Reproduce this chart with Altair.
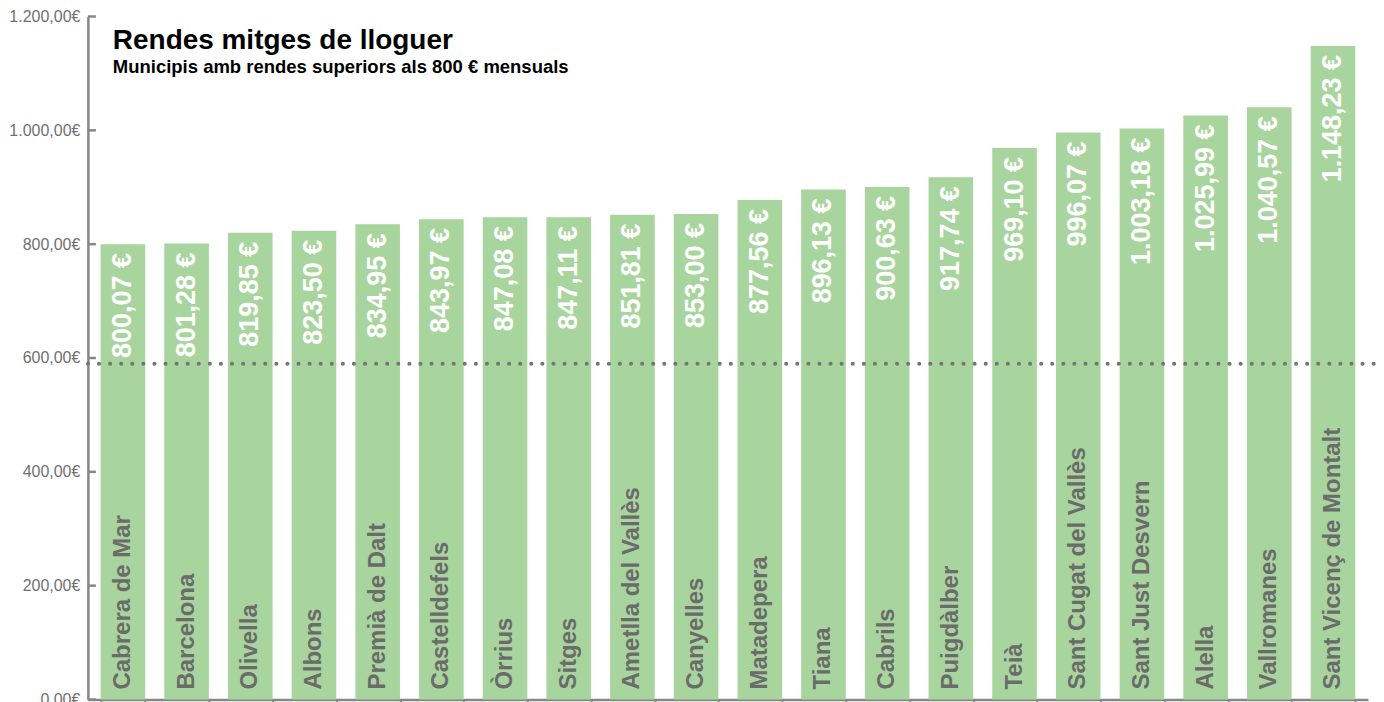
import altair as alt
import pandas as pd

municipis = ["Cabrera de Mar", "Barcelona", "Olivella", "Albons", "Premià de Dalt",
             "Castelldefels", "Òrrius", "Sitges", "Ametlla del Vallès", "Canyelles",
             "Matadepera", "Tiana", "Cabrils", "Puigdàlber", "Teià",
             "Sant Cugat del Vallès", "Sant Just Desvern", "Alella", "Vallromanes",
             "Sant Vicenç de Montalt"]
rendes = [800.07, 801.28, 819.85, 823.50, 834.95, 843.97, 847.08, 847.11, 851.81, 853.00,
          877.56, 896.13, 900.63, 917.74, 969.10, 996.07, 1003.18, 1025.99, 1040.57, 1148.23]
y_ticks = [0, 200, 400, 600, 800, 1000, 1200]
linia_ref = [590]
titol = "Rendes mitges de lloguer"
subtitol = "Municipis amb rendes superiors als 800 € mensuals"


def fmt(v):
    s = f"{v:,.2f}"
    return s.replace(",", "#").replace(".", ",").replace("#", ".") + " €"


df = pd.DataFrame({"municipi": municipis, "renda": rendes,
                   "etiqueta": [fmt(v) for v in rendes]})

W, H = 1282, 684
FONT = "Liberation Sans"
GREY = "#868686"

xscale = alt.Scale(paddingInner=0.3, paddingOuter=0.2)
yscale = alt.Scale(domain=[0, 1200], nice=False, zero=True)

x_ax = alt.Axis(title=None, labels=False, domainColor=GREY, domainWidth=2.5,
                tickColor=GREY, tickWidth=2, tickSize=6, tickBand="extent", grid=False)
x_enc = alt.X("municipi:N", sort=None, scale=xscale, axis=x_ax)

label_expr = ("replace(replace(replace(format(datum.value, ',.2f'), ',', '#'), '.', ','), '#', '.') + '€'")
y_ax = alt.Axis(title=None, values=y_ticks, ticks=False, grid=False,
                labelExpr=label_expr, labelFont=FONT, labelFontSize=16,
                labelColor="#707070", labelPadding=8,
                domainColor=GREY, domainWidth=2.5)


def yenc(field):
    return alt.Y(field, scale=yscale, axis=y_ax)


base = alt.Chart(df)

bars = base.mark_bar(color="#a8d59d").encode(x=x_enc, y=yenc("renda:Q"))

values = base.mark_text(angle=270, align="right", baseline="middle", dx=-9,
                        font=FONT, fontWeight="bold", fontSize=27, color="white").encode(
    x=x_enc, y=yenc("renda:Q"), text="etiqueta:N")

names = base.transform_calculate(base0="0").mark_text(
    angle=270, align="left", baseline="middle", dx=10,
    font=FONT, fontWeight="bold", fontSize=24, color="#6b6b6b").encode(
    x=x_enc, y=yenc("base0:Q"), text="municipi:N")

ref = alt.Chart(pd.DataFrame({"renda": linia_ref})).mark_rule(
    color="#757575", strokeWidth=4, strokeDash=[0.1, 11], strokeCap="round").encode(
    y=yenc("renda:Q"), x=alt.value(0), x2=alt.value(W + 8))

yticks = alt.Chart(pd.DataFrame({"renda": y_ticks})).mark_rule(
    color=GREY, strokeWidth=2.5).encode(
    y=yenc("renda:Q"), x=alt.value(0), x2=alt.value(8))

title = alt.Chart(pd.DataFrame({"t": [titol]})).mark_text(
    align="left", baseline="alphabetic", font=FONT, fontWeight="bold", fontSize=28,
    color="black").encode(x=alt.value(25), y=alt.value(33), text="t:N")

subtitle = alt.Chart(pd.DataFrame({"t": [subtitol]})).mark_text(
    align="left", baseline="alphabetic", font=FONT, fontWeight="bold", fontSize=18.5,
    color="black").encode(x=alt.value(25), y=alt.value(57), text="t:N")

chart = alt.layer(bars, values, names, ref, yticks, title, subtitle).properties(
    width=W, height=H, autosize="none",
    padding={"left": 80, "top": 8, "right": 8, "bottom": 12}
).configure_view(stroke=None)

chart.save("out.html", embed_options={"renderer": "svg", "actions": False})
